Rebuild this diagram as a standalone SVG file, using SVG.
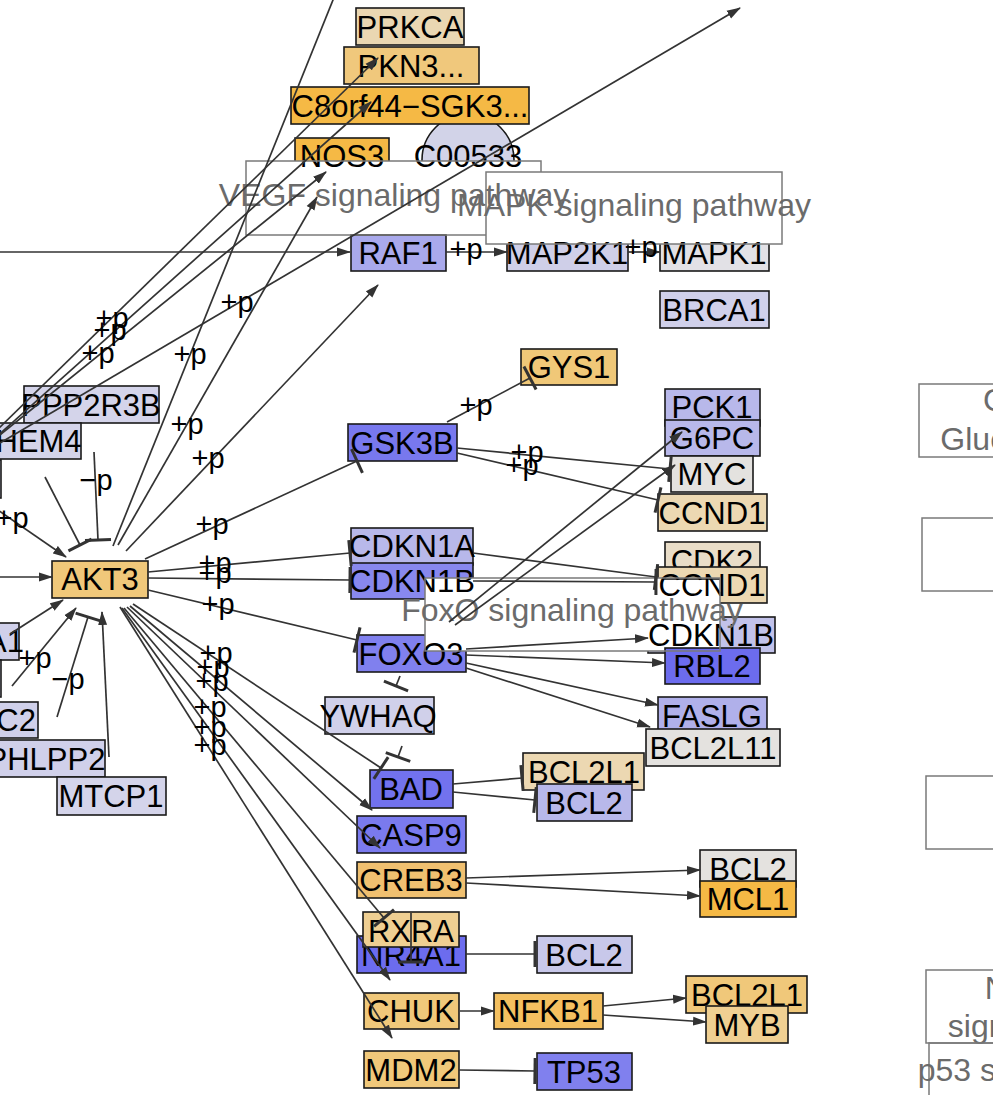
<svg xmlns="http://www.w3.org/2000/svg" width="993" height="1095" viewBox="0 0 993 1095">
<style>
text{font-family:"Liberation Sans",Arial,sans-serif}
.nd rect,.nd circle{stroke:#1a1a1a;stroke-width:1.6}
.nd text{font-size:31px;text-anchor:middle;fill:#000}
.pw rect{fill:none;stroke:#7a7a7a;stroke-width:1.5}
.pw text{font-size:32px;text-anchor:middle;fill:#6b6b6b}
.e line,.e path{stroke:#333;stroke-width:1.7;fill:none}
.a{marker-end:url(#arr)}
.t{marker-end:url(#bar)}
.lb text{font-size:29px;text-anchor:middle;fill:#000}
</style>
<defs>
<marker id="arr" viewBox="0 0 14 10" refX="13" refY="5" markerWidth="14" markerHeight="10" markerUnits="userSpaceOnUse" orient="auto"><path d="M0,0.5 L14,5 L0,9.5 Z" fill="#333"/></marker>
<marker id="bar" viewBox="0 0 6 28" refX="3" refY="14" markerWidth="6" markerHeight="28" markerUnits="userSpaceOnUse" orient="auto"><path d="M3,1 L3,27" stroke="#333" stroke-width="3"/></marker>
<clipPath id="notVEGF"><path clip-rule="evenodd" d="M-200,-200 H1200 V1300 H-200 Z M246,161 H541 V235 H246 Z"/></clipPath>
<clipPath id="notFoxO"><path clip-rule="evenodd" d="M-200,-200 H1200 V1300 H-200 Z M425,578 H720 V651 H425 Z"/></clipPath>
<clipPath id="notMAPK"><path clip-rule="evenodd" d="M-200,-200 H1200 V1300 H-200 Z M486,172 H782 V244 H486 Z"/></clipPath>
</defs>
<rect x="0" y="0" width="993" height="1095" fill="#fff"/>
<g id="nodes">
<g class="nd" id="n-PRKCA"><rect x="356" y="8" width="108" height="37" fill="#ead7b2"/><text x="410" y="38">PRKCA</text></g>
<g class="nd" id="n-PKN3"><rect x="344" y="47" width="135" height="37" fill="#f0c87c"/><text x="411" y="77">PKN3...</text></g>
<g class="nd" id="n-C00533"><circle cx="468" cy="160" r="46" fill="#d2d3e8" clip-path="url(#notVEGF)"/><text x="468" y="167">C00533</text></g>
<g class="nd" id="n-SGK3"><rect x="291" y="87" width="238" height="37" fill="#f5b945"/><text x="410" y="117">C8orf44−SGK3...</text></g>
<g class="nd" id="n-NOS3"><rect x="295" y="138" width="94" height="37" fill="#f5b945" clip-path="url(#notVEGF)"/><text x="342" y="167">NOS3</text></g>
<g class="nd" id="n-RAF1"><rect x="351" y="235" width="95" height="36" fill="#a9a9ec"/><text x="398" y="264">RAF1</text></g>
<g class="nd" id="n-MAP2K1"><rect x="507" y="235" width="121" height="36" fill="#cfcfe8" clip-path="url(#notMAPK)"/><text x="567" y="264">MAP2K1</text></g>
<g class="nd" id="n-MAPK1"><rect x="660" y="235" width="109" height="36" fill="#e2e1e6" clip-path="url(#notMAPK)"/><text x="714" y="264">MAPK1</text></g>
<g class="nd" id="n-BRCA1"><rect x="660" y="291" width="109" height="37" fill="#d0d0ea"/><text x="714" y="321">BRCA1</text></g>
<g class="nd" id="n-GYS1"><rect x="521" y="349" width="96" height="36" fill="#f0c878"/><text x="569" y="378">GYS1</text></g>
<g class="nd" id="n-PPP2R3B"><rect x="24" y="386" width="135" height="37" fill="#d4d4ea"/><text x="91" y="416">PPP2R3B</text></g>
<g class="nd" id="n-THEM4"><rect x="-25" y="423" width="106" height="36" fill="#d4d4ea"/><text x="29" y="452">THEM4</text></g>
<g class="nd" id="n-left1"><rect x="-120" y="460" width="121" height="38" fill="#d0d0ea"/></g>
<g class="nd" id="n-PCK1"><rect x="665" y="389" width="95" height="37" fill="#b8b8ea"/><text x="712" y="418">PCK1</text></g>
<g class="nd" id="n-G6PC"><rect x="665" y="420" width="95" height="36" fill="#b8b8ea"/><text x="712" y="449">G6PC</text></g>
<g class="nd" id="n-GSK3B"><rect x="348" y="424" width="109" height="37" fill="#7878ee"/><text x="402" y="454">GSK3B</text></g>
<g class="nd" id="n-MYC"><rect x="671" y="456" width="82" height="36" fill="#e4e2df"/><text x="712" y="485">MYC</text></g>
<g class="nd" id="n-CCND1a"><rect x="658" y="494" width="109" height="37" fill="#ecd8b2"/><text x="712" y="524">CCND1</text></g>
<g class="nd" id="n-CDKN1A"><rect x="351" y="528" width="122" height="37" fill="#b8b8ea"/><text x="412" y="557">CDKN1A</text></g>
<g class="nd" id="n-CDK2"><rect x="665" y="542" width="95" height="37" fill="#e9ddc8"/><text x="712" y="572">CDK2</text></g>
<g class="nd" id="n-AKT3"><rect x="52" y="561" width="96" height="37" fill="#f0c87a"/><text x="100" y="590">AKT3</text></g>
<g class="nd" id="n-CDKN1B"><rect x="351" y="563" width="122" height="36" fill="#8888ee" clip-path="url(#notFoxO)"/><text x="412" y="592">CDKN1B</text></g>
<g class="nd" id="n-CCND1b"><rect x="658" y="567" width="109" height="36" fill="#ecd8b2" clip-path="url(#notFoxO)"/><text x="712" y="596">CCND1</text></g>
<g class="nd" id="n-CDKN1Bb"><rect x="648" y="617" width="127" height="36" fill="#c2c2ea" clip-path="url(#notFoxO)"/><text x="711" y="646">CDKN1B</text></g>
<g class="nd" id="n-A1"><rect x="-80" y="623" width="99" height="37" fill="#d0d0ea"/><text x="24" y="652" style="text-anchor:end">A1</text></g>
<g class="nd" id="n-left2"><rect x="-120" y="660" width="121" height="37" fill="#d0d0ea"/></g>
<g class="nd" id="n-FOXO3"><rect x="357" y="635" width="109" height="37" fill="#8080ee" clip-path="url(#notFoxO)"/><text x="411" y="665">FOXO3</text></g>
<g class="nd" id="n-RBL2"><rect x="665" y="648" width="95" height="36" fill="#6c6cee"/><text x="712" y="677">RBL2</text></g>
<g class="nd" id="n-YWHAQ"><rect x="325" y="697" width="109" height="37" fill="#d0d0ea"/><text x="378" y="727">YWHAQ</text></g>
<g class="nd" id="n-FASLG"><rect x="658" y="697" width="109" height="37" fill="#b0b0ea"/><text x="712" y="727">FASLG</text></g>
<g class="nd" id="n-C2"><rect x="-60" y="702" width="98" height="36" fill="#d0d0ea"/><text x="36" y="731" style="text-anchor:end">C2</text></g>
<g class="nd" id="n-BCL2L11"><rect x="646" y="729" width="134" height="37" fill="#e4e2df"/><text x="713" y="759">BCL2L11</text></g>
<g class="nd" id="n-PHLPP2"><rect x="-13" y="740" width="118" height="37" fill="#d0d0ea"/><text x="46" y="770">PHLPP2</text></g>
<g class="nd" id="n-BCL2L1a"><rect x="523" y="753" width="121" height="37" fill="#ecd8b2"/><text x="584" y="783">BCL2L1</text></g>
<g class="nd" id="n-BAD"><rect x="370" y="770" width="83" height="38" fill="#7272ee"/><text x="411" y="800">BAD</text></g>
<g class="nd" id="n-MTCP1"><rect x="57" y="777" width="109" height="38" fill="#d4d4ea"/><text x="111" y="807">MTCP1</text></g>
<g class="nd" id="n-BCL2a"><rect x="537" y="784" width="95" height="37" fill="#b8b8ea"/><text x="584" y="814">BCL2</text></g>
<g class="nd" id="n-CASP9"><rect x="357" y="816" width="109" height="37" fill="#7a7aee"/><text x="411" y="846">CASP9</text></g>
<g class="nd" id="n-BCL2b"><rect x="700" y="850" width="96" height="37" fill="#e4e2df"/><text x="748" y="880">BCL2</text></g>
<g class="nd" id="n-CREB3"><rect x="357" y="862" width="109" height="36" fill="#f0c070"/><text x="411" y="891">CREB3</text></g>
<g class="nd" id="n-MCL1"><rect x="700" y="881" width="96" height="36" fill="#f5b945"/><text x="748" y="910">MCL1</text></g>
<g class="nd" id="n-NR4A1"><rect x="357" y="936" width="109" height="37" fill="#6c6cee"/><text x="411" y="966">NR4A1</text></g>
<g class="nd" id="n-RXRA"><rect x="363" y="912" width="96" height="35" fill="#efcf92"/><text x="411" y="942">RXRA</text></g>
<g class="nd" id="n-BCL2c"><rect x="537" y="936" width="95" height="37" fill="#c8c8ea"/><text x="584" y="966">BCL2</text></g>
<g class="nd" id="n-BCL2L1b"><rect x="686" y="976" width="121" height="37" fill="#f0c87a"/><text x="747" y="1006">BCL2L1</text></g>
<g class="nd" id="n-CHUK"><rect x="364" y="993" width="95" height="36" fill="#f0c87a"/><text x="411" y="1022">CHUK</text></g>
<g class="nd" id="n-NFKB1"><rect x="494" y="993" width="109" height="36" fill="#f4c060"/><text x="548" y="1022">NFKB1</text></g>
<g class="nd" id="n-MYB"><rect x="706" y="1006" width="82" height="37" fill="#f0d092"/><text x="747" y="1036">MYB</text></g>
<g class="nd" id="n-MDM2"><rect x="364" y="1051" width="95" height="37" fill="#f0c87a"/><text x="411" y="1081">MDM2</text></g>
<g class="nd" id="n-TP53"><rect x="537" y="1053" width="95" height="37" fill="#8080ee"/><text x="584" y="1083">TP53</text></g>
</g>
<g id="pathways">
<g class="pw" id="p-VEGF"><rect x="246" y="161" width="295" height="74" clip-path="url(#notMAPK)"/><text x="394" y="206">VEGF signaling pathway</text></g>
<g class="pw" id="p-MAPK"><rect x="486" y="172" width="296" height="72"/><text x="634" y="216">MAPK signaling pathway</text></g>
<g class="pw" id="p-FoxO"><rect x="425" y="578" width="295" height="73"/><text x="572" y="621">FoxO signaling pathway</text></g>
<g class="pw" id="p-Glyco"><rect x="919" y="384" width="220" height="73"/><text x="1064" y="411">Glycolysis /</text><text x="1064" y="450">Gluconeogenesis</text></g>
<g class="pw" id="p-R2"><rect x="922" y="518" width="220" height="73"/></g>
<g class="pw" id="p-R3"><rect x="926" y="776" width="220" height="73"/></g>
<g class="pw" id="p-NFKB"><rect x="926" y="970" width="220" height="73"/><text x="1070" y="999">NF-kappa B</text><text x="1075" y="1037">signaling pathway</text></g>
<g class="pw" id="p-p53"><rect x="929" y="1043" width="220" height="73"/><text x="1076" y="1081">p53 signaling pathway</text></g>
</g>
<g id="edges" class="e">
<line class="a" x1="-5" y1="432" x2="378" y2="58"/>
<line class="a" x1="-5" y1="438" x2="371" y2="102"/>
<line class="a" x1="-5" y1="439" x2="326" y2="172"/>
<line class="a" x1="-5" y1="446" x2="740" y2="8"/>
<line class="a" x1="-5" y1="252" x2="350" y2="252"/>
<line class="a" x1="-5" y1="508" x2="66" y2="557"/>
<line class="a" x1="-5" y1="577" x2="52" y2="577"/>
<line x1="113" y1="546" x2="335" y2="-5"/>
<line class="a" x1="118" y1="545" x2="317" y2="197"/>
<line class="a" x1="126" y1="551" x2="378" y2="285"/>
<line class="t" x1="145" y1="559" x2="357" y2="461"/>
<line class="t" x1="148" y1="572" x2="350" y2="553"/>
<line class="t" x1="148" y1="578" x2="350" y2="580"/>
<line class="t" x1="148" y1="590" x2="357" y2="640"/>
<line class="t" x1="133" y1="604" x2="381" y2="768"/>
<line class="a" x1="130" y1="606" x2="372" y2="810"/>
<line class="a" x1="127" y1="607" x2="380" y2="848"/>
<line class="t" x1="124" y1="608" x2="384" y2="918"/>
<line class="a" x1="122" y1="608" x2="390" y2="980"/>
<line class="a" x1="120" y1="607" x2="392" y2="1038"/>
<line class="t" x1="45" y1="477" x2="80" y2="545"/>
<line class="t" x1="94" y1="452" x2="98" y2="540"/>
<line class="a" x1="10" y1="634" x2="63" y2="600"/>
<line class="a" x1="12" y1="686" x2="76" y2="608"/>
<line class="t" x1="57" y1="717" x2="88" y2="617"/>
<line class="a" x1="109" y1="757" x2="102" y2="612"/>
<line class="a" x1="446" y1="252" x2="507" y2="252"/>
<line class="a" x1="628" y1="252" x2="660" y2="252"/>
<line class="t" x1="447" y1="422" x2="530" y2="378"/>
<line class="t" x1="457" y1="448" x2="670" y2="469"/>
<line class="t" x1="457" y1="453" x2="658" y2="500"/>
<line class="a" x1="449" y1="622" x2="682" y2="432"/>
<line class="a" x1="455" y1="625" x2="675" y2="465"/>
<line class="t" x1="473" y1="553" x2="656" y2="577"/>
<line class="t" x1="473" y1="581" x2="656" y2="582"/>
<line class="a" x1="466" y1="649" x2="648" y2="638"/>
<line class="a" x1="466" y1="655" x2="665" y2="663"/>
<line class="a" x1="466" y1="663" x2="658" y2="705"/>
<line class="a" x1="466" y1="668" x2="650" y2="727"/>
<line class="t" x1="400" y1="676" x2="396" y2="686"/>
<line class="t" x1="402" y1="746" x2="398" y2="757"/>
<line class="t" x1="453" y1="784" x2="522" y2="778"/>
<line class="t" x1="453" y1="792" x2="535" y2="800"/>
<line class="a" x1="466" y1="878" x2="700" y2="870"/>
<line class="a" x1="466" y1="883" x2="700" y2="896"/>
<line class="t" x1="411" y1="913" x2="411" y2="962"/>
<line class="t" x1="466" y1="954" x2="535" y2="954"/>
<line class="a" x1="460" y1="1011" x2="494" y2="1011"/>
<line class="a" x1="603" y1="1006" x2="686" y2="998"/>
<line class="a" x1="603" y1="1015" x2="706" y2="1022"/>
<line class="t" x1="459" y1="1070" x2="535" y2="1071"/>
</g>
<g id="edge-labels" class="lb">
<text x="112" y="328">+p</text>
<text x="110" y="340">+p</text>
<text x="98" y="363">+p</text>
<text x="237" y="312">+p</text>
<text x="190" y="364">+p</text>
<text x="187" y="434">+p</text>
<text x="208" y="468">+p</text>
<text x="212" y="534">+p</text>
<text x="215" y="573">+p</text>
<text x="215" y="583">+p</text>
<text x="218" y="614">+p</text>
<text x="12" y="528">+p</text>
<text x="96" y="490">−p</text>
<text x="35" y="668">+p</text>
<text x="68" y="689">−p</text>
<text x="216" y="663">+p</text>
<text x="213" y="677">+p</text>
<text x="212" y="691">+p</text>
<text x="210" y="717">+p</text>
<text x="210" y="737">+p</text>
<text x="210" y="755">+p</text>
<text x="466" y="259">+p</text>
<text x="641" y="257">+p</text>
<text x="476" y="415">+p</text>
<text x="527" y="462">+p</text>
<text x="522" y="475">+p</text>
</g>
</svg>
